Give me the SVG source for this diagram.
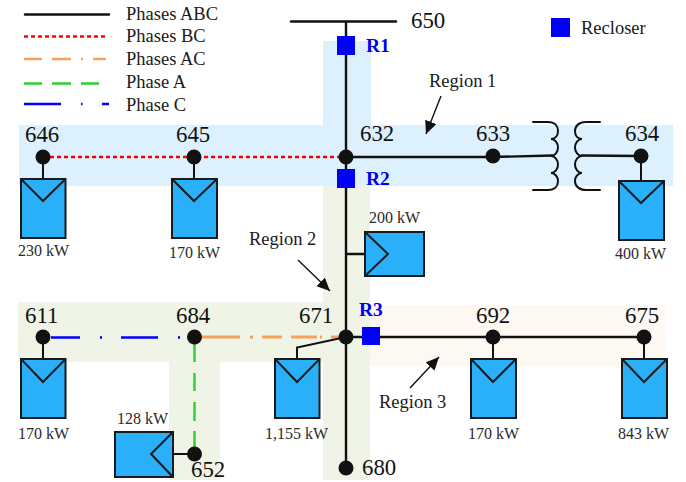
<svg xmlns="http://www.w3.org/2000/svg" width="686" height="482" viewBox="0 0 686 482">
<defs>
<marker id="ah" markerUnits="userSpaceOnUse" markerWidth="14" markerHeight="14" refX="13" refY="6" orient="auto"><path d="M0 0L13 6L0 12Z" fill="#111"/></marker>
</defs>
<style>
text{font-family:"Liberation Serif","Times New Roman",serif;fill:#1a1a1a}
.l{font-size:18.5px}.n{font-size:22.8px;fill:#111}.k{font-size:16px;fill:#2a2a2a}
.r{font-size:19.5px;font-weight:bold;fill:#0000f0}
.w{fill:none;stroke:#111;stroke-width:2.4}
.t{fill:none;stroke:#111;stroke-width:2;stroke-linecap:round}
.a{fill:none;stroke:#111;stroke-width:1.4;marker-end:url(#ah)}
.b{fill:#111}.c{fill:#0000f5}
.p{fill:#29b0f8;stroke:#1a1a1a;stroke-width:2}
.v{fill:none;stroke:#1a1a1a;stroke-width:2}
</style>
<g id="regions">
<path fill="#ddf0fe" d="M323 41H371V125H673V186H19V125H323Z"/>
<path fill="#fdf9f2" d="M370 305H665V366H370Z"/>
<path fill="#f0f4e6" d="M323 186H370V480H323V362H220V480H169V362H18V302H323Z"/>
</g>
<g id="connectors">
<path class="w" d="M291 21.500H396" stroke-linecap="round"/>
<path class="w" d="M346 21V468"/>
<path class="w" d="M346 157H493L553 155.500M581 155.500L641 156M346 337H644M346 254H365"/>
<path class="w" style="stroke:#f00;stroke-dasharray:4 3" d="M50 157H340"/>
<path class="w" style="stroke:#00f" d="M51 337.500H80M100 337.500H102M121 337.500H158M178 337.500H180"/>
<path class="w" style="stroke:#f9a15c;stroke-width:2.800" d="M202 337H240M250 337H253M262 337H282M291 337H317M320 337H322M331 337H340"/>
<path class="w" style="stroke:#2fcf2f" d="M194.500 344V362M194.500 373V391M194.500 402V421M194.500 431V447"/>
<path class="t" d="M43 157V179M194 157V179M641 156V181M43 337V359M493 337V359M644 337V359M173 454H194M297 359V347.500L346 337"/>
<path class="t" d="M533 122H548C555 122 558 126 558 131C558 136 555 139 551 139C555 139 558 143 558 147.500C558 152 555 156 551 156C555 156 558 160 558 164.500C558 169 555 173 551 173C555 173 558 177 558 181C558 186 555 190 548 190H533"/>
<path class="t" d="M600 122H586C579 122 575 126 575 131C575 136 578 139 582 139C578 139 575 143 575 147.500C575 152 578 156 582 156C578 156 575 160 575 164.500C575 169 578 173 582 173C578 173 575 177 575 181C575 186 579 190 586 190H600"/>
<path class="a" d="M441 96L426 134"/>
<path class="a" d="M298 260L330 291"/>
<path class="a" d="M410 388L439 357"/>
</g>
<g id="legend">
<path stroke="#111" stroke-width="2.400" stroke-linecap="round" d="M25 14.500H109"/>
<path stroke="#f00" stroke-width="2.400" stroke-dasharray="4 3" d="M24 36.500H107"/>
<path stroke="#f9a15c" stroke-width="2.400" d="M24 59H42M52 59H71M81 59H83M93 59H106"/>
<path stroke="#2fcf2f" stroke-width="2.400" d="M24 83.500H42M52 83.500H71M81 83.500H99"/>
<path stroke="#00f" stroke-width="2.400" d="M24 104H61M81 104H82.500M102 104H109"/>
<text class="l" x="126" y="20">Phases ABC</text>
<text class="l" x="126" y="42">Phases BC</text>
<text class="l" x="126" y="65">Phases AC</text>
<text class="l" x="126" y="88">Phase A</text>
<text class="l" x="126" y="111">Phase C</text>
<rect class="c" x="551" y="18" width="19" height="19"/>
<text class="l" x="581" y="34">Recloser</text>
</g>
<g id="n650"><text class="n" x="411" y="28">650</text></g>
<g id="n646"><circle class="b" cx="43" cy="157" r="7.500"/><text class="n" x="25" y="142">646</text><rect class="p" x="21" y="179" width="44.500" height="59"/><path class="v" d="M21 179L43 201L65.500 179"/><text class="k" x="18" y="256">230 kW</text></g>
<g id="n645"><circle class="b" cx="194" cy="157" r="7.500"/><text class="n" x="176" y="142">645</text><rect class="p" x="172" y="179" width="45" height="59"/><path class="v" d="M172 179L194 201L217 179"/><text class="k" x="169" y="258">170 kW</text></g>
<g id="n632"><circle class="b" cx="346" cy="157" r="7.500"/><text class="n" x="360" y="141">632</text></g>
<g id="n633"><circle class="b" cx="493" cy="156" r="7.500"/><text class="n" x="476" y="141">633</text></g>
<g id="n634"><circle class="b" cx="641" cy="156" r="7.500"/><text class="n" x="625" y="141">634</text><rect class="p" x="619" y="181" width="45" height="59"/><path class="v" d="M619 181L641 203L664 181"/><text class="k" x="615" y="259">400 kW</text></g>
<g id="n200"><rect class="p" x="365" y="232" width="59" height="44"/><path class="v" d="M365 232L388 254L365 276"/><text class="k" x="369" y="223">200 kW</text></g>
<g id="n611"><circle class="b" cx="43" cy="337" r="7.500"/><text class="n" x="25" y="323">611</text><rect class="p" x="21" y="359" width="44.500" height="59"/><path class="v" d="M21 359L43 382L65.500 359"/><text class="k" x="18" y="439">170 kW</text></g>
<g id="n684"><circle class="b" cx="194.500" cy="337" r="7.500"/><text class="n" x="176" y="323">684</text></g>
<g id="n671"><circle class="b" cx="346" cy="337" r="7.500"/><text class="n" x="299" y="323">671</text><rect class="p" x="275" y="359" width="44.500" height="59"/><path class="v" d="M275 359L297 382L319.500 359"/><text class="k" x="265" y="439">1,155 kW</text></g>
<g id="n692"><circle class="b" cx="493" cy="337" r="7.500"/><text class="n" x="476" y="323">692</text><rect class="p" x="471" y="359" width="45" height="59"/><path class="v" d="M471 359L493 382L516 359"/><text class="k" x="468" y="439">170 kW</text></g>
<g id="n675"><circle class="b" cx="644" cy="337" r="7.500"/><text class="n" x="625" y="323">675</text><rect class="p" x="622" y="359" width="45" height="59"/><path class="v" d="M622 359L644 382L667 359"/><text class="k" x="618" y="439">843 kW</text></g>
<g id="n652"><circle class="b" cx="194.500" cy="454" r="7.500"/><text class="n" x="191" y="477">652</text><rect class="p" x="115" y="432" width="58" height="45"/><path class="v" d="M173 432L151 454L173 477"/><text class="k" x="117" y="424">128 kW</text></g>
<g id="n680"><circle class="b" cx="346" cy="468" r="7.500"/><text class="n" x="362" y="475">680</text></g>
<g id="reclosers">
<rect class="c" x="337" y="36" width="18" height="19"/><text class="r" x="366" y="52">R1</text>
<rect class="c" x="337" y="169" width="18" height="19"/><text class="r" x="366" y="185">R2</text>
<rect class="c" x="362" y="327" width="18" height="18"/><text class="r" x="359" y="316">R3</text>
</g>
<g id="labels">
<text class="l" x="429" y="87">Region 1</text>
<text class="l" x="249" y="245">Region 2</text>
<text class="l" x="379" y="408">Region 3</text>
</g>
</svg>
